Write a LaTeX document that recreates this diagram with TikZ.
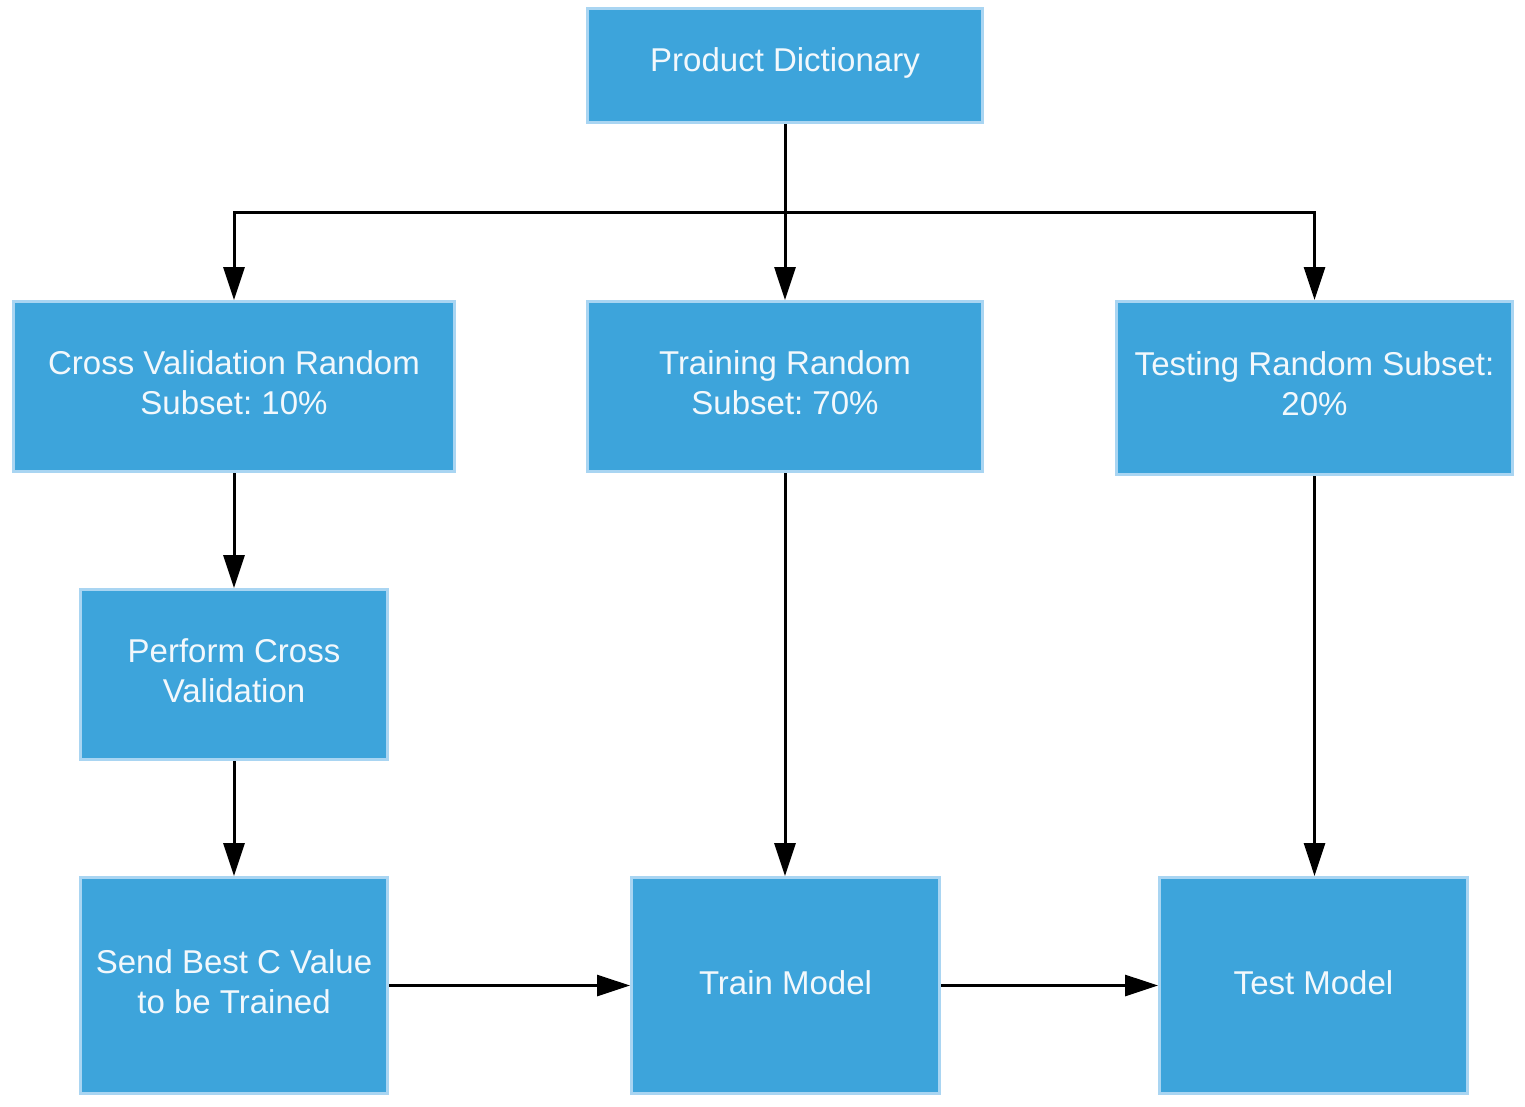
\documentclass[tikz,border=0pt]{standalone}
\usepackage{fontspec}
\setmainfont{Liberation Sans}
\usetikzlibrary{arrows.meta}
\definecolor{boxfill}{HTML}{3DA4DB}
\definecolor{boxedge}{HTML}{A9D5F2}
\definecolor{boxtext}{HTML}{F2F8FC}
\tikzset{
  flowbox/.style={rectangle, fill=boxfill, draw=boxedge, line width=3pt, inner sep=0pt},
  boxlabel/.style={text=boxtext, align=center, inner sep=0pt,
    font=\fontsize{33}{40}\selectfont},
  conn/.style={draw=black, line width=3pt, -{Triangle[width=21pt,length=33pt]}}
}
\begin{document}
\frenchspacing
\begin{tikzpicture}[x=1pt,y=-1pt]
\useasboundingbox (0,0) rectangle (1525,1106);
\fill[white] (0,0) rectangle (1525,1106);
\node[flowbox, minimum width=395pt, minimum height=114pt] (pd) at (785,65.5) {};
\node[flowbox, minimum width=441pt, minimum height=170pt] (cv) at (234,386.5) {};
\node[flowbox, minimum width=395pt, minimum height=170pt] (tr) at (785,386.5) {};
\node[flowbox, minimum width=396pt, minimum height=173pt] (te) at (1314.5,388) {};
\node[flowbox, minimum width=307pt, minimum height=170pt] (pc) at (234,674.5) {};
\node[flowbox, minimum width=307pt, minimum height=216pt] (sb) at (234,985.5) {};
\node[flowbox, minimum width=308pt, minimum height=216pt] (tm) at (785.5,985.5) {};
\node[flowbox, minimum width=308pt, minimum height=216pt] (ts) at (1313.5,985.5) {};
\node[boxlabel] (pdt) at ([yshift=3pt]pd.center) {Product Dictionary};
\node[boxlabel] (cvt) at ([yshift=4pt]cv.center) {Cross Validation Random\\Subset: 10\%};
\node[boxlabel] (trt) at ([yshift=4pt]tr.center) {Training Random\\Subset: 70\%};
\node[boxlabel] (tet) at ([yshift=4pt]te.center) {Testing Random Subset:\\20\%};
\node[boxlabel] (pct) at ([yshift=4pt]pc.center) {Perform Cross\\Validation};
\node[boxlabel] (sbt) at ([yshift=4pt]sb.center) {Send Best C Value\\to be Trained};
\node[boxlabel] (tmt) at ([yshift=3pt]tm.center) {Train Model};
\node[boxlabel] (tst) at ([yshift=3pt]ts.center) {Test Model};
\coordinate (bus) at (785,212);
\draw[conn] (pd.south) -- (tr.north);
\draw[conn] (bus) -| (cv.north);
\draw[conn] (bus) -| (te.north);
\draw[conn] (cv.south) -- (pc.north);
\draw[conn] (pc.south) -- (sb.north);
\draw[conn] (tr.south) -- (tr.south |- tm.north);
\draw[conn] (te.south) -- (te.south |- ts.north);
\draw[conn] (sb.east) -- (tm.west);
\draw[conn] (tm.east) -- (ts.west);
\end{tikzpicture}
\end{document}
